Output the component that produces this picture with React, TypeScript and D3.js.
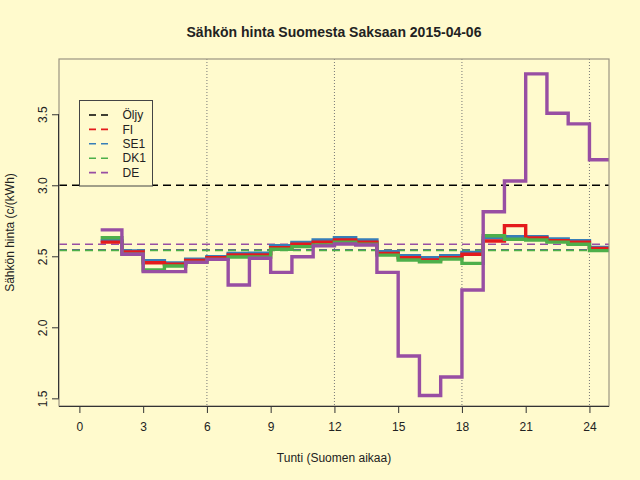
import React, { useEffect, useRef } from 'react';
import * as d3 from 'd3';

// hourly prices, c/kWh (value for hour h is drawn from h to h+1)
const hours = [1, 2, 3, 4, 5, 6, 7, 8, 9, 10, 11, 12, 13, 14, 15, 16, 17, 18, 19, 20, 21, 22, 23, 24];
const fi = [2.60, 2.53, 2.455, 2.445, 2.47, 2.49, 2.51, 2.51, 2.56, 2.585, 2.60, 2.615, 2.60, 2.52, 2.49, 2.475, 2.49, 2.514, 2.608, 2.716, 2.63, 2.61, 2.60, 2.555];
const se1 = [2.61, 2.537, 2.469, 2.453, 2.479, 2.497, 2.52, 2.521, 2.575, 2.598, 2.615, 2.631, 2.615, 2.532, 2.505, 2.49, 2.505, 2.527, 2.63, 2.638, 2.638, 2.622, 2.61, 2.563];
const dk1 = [2.631, 2.515, 2.403, 2.432, 2.457, 2.478, 2.495, 2.495, 2.55, 2.568, 2.58, 2.60, 2.585, 2.508, 2.474, 2.462, 2.48, 2.45, 2.645, 2.62, 2.615, 2.60, 2.585, 2.54];
const de = [2.686, 2.514, 2.392, 2.392, 2.457, 2.478, 2.298, 2.486, 2.387, 2.497, 2.573, 2.587, 2.58, 2.387, 1.798, 1.52, 1.65, 2.263, 2.814, 3.03, 3.784, 3.507, 3.432, 3.18];

// reference levels (dashed lines)
const oljy = 3.0;
const levelNames = ['FI', 'SE1', 'DK1', 'DE'];
const levelValues = [2.545, 2.544, 2.541, 2.585];

const legendNames = ['Öljy', 'FI', 'SE1', 'DK1', 'DE'];
const xTicks = [0, 3, 6, 9, 12, 15, 18, 21, 24];
const yTicks = [1.5, 2.0, 2.5, 3.0, 3.5];
const gridHours = [6, 12, 18, 24];

const colors: Record<string, string> = {
  'Öljy': '#000000',
  FI: '#E41A1C',
  SE1: '#377EB8',
  DK1: '#4DAF4A',
  DE: '#984EA3',
};

const W = 640;
const H = 480;
const BG = '#FFFACD';
const plot = { left: 59, right: 609, top: 59, bottom: 406 };
const font = '"Liberation Sans", Arial, Helvetica, sans-serif';

export default function App() {
  const ref = useRef<SVGSVGElement>(null);

  useEffect(() => {
    const svg = d3.select(ref.current);
    svg.selectAll('*').remove();

    const x = d3.scaleLinear().domain([-0.96, 24.92]).range([plot.left, plot.right]);
    const y = d3.scaleLinear().domain([1.446, 3.889]).range([plot.bottom, plot.top]);

    svg.append('rect').attr('width', W).attr('height', H).attr('fill', BG);

    svg.append('defs').append('clipPath').attr('id', 'clip')
      .append('rect')
      .attr('x', plot.left).attr('y', plot.top)
      .attr('width', plot.right - plot.left).attr('height', plot.bottom - plot.top);

    // dotted verticals
    svg.append('g').selectAll('line').data(gridHours).enter().append('line')
      .attr('x1', d => x(d)).attr('x2', d => x(d))
      .attr('y1', plot.top).attr('y2', plot.bottom)
      .attr('stroke', '#777').attr('stroke-width', 1)
      .attr('stroke-dasharray', '1,2');

    // reference levels
    const levels = [{ name: 'Öljy', v: oljy }].concat(levelNames.map((n, i) => ({ name: n, v: levelValues[i] })));
    svg.append('g').selectAll('line').data(levels).enter().append('line')
      .attr('x1', plot.left).attr('x2', plot.right)
      .attr('y1', d => y(d.v)).attr('y2', d => y(d.v))
      .attr('stroke', d => colors[d.name]).attr('stroke-width', 1.6)
      .attr('stroke-dasharray', '8,5');

    // step lines
    const series = [
      { name: 'SE1', vals: se1 },
      { name: 'FI', vals: fi },
      { name: 'DK1', vals: dk1 },
      { name: 'DE', vals: de },
    ];
    const line = d3.line<[number, number]>()
      .x(d => x(d[0])).y(d => y(d[1]))
      .curve(d3.curveStepAfter);
    const g = svg.append('g').attr('clip-path', 'url(#clip)');
    series.forEach(s => {
      const pts: [number, number][] = hours.map((h, i) => [h, s.vals[i]]);
      pts.push([hours[hours.length - 1] + 1, s.vals[s.vals.length - 1]]);
      g.append('path').attr('d', line(pts) || '')
        .attr('fill', 'none').attr('stroke', colors[s.name])
        .attr('stroke-width', 3.4).attr('stroke-linejoin', 'miter')
        .attr('stroke-linecap', 'butt');
    });

    // box
    svg.append('rect')
      .attr('x', plot.left).attr('y', plot.top)
      .attr('width', plot.right - plot.left).attr('height', plot.bottom - plot.top)
      .attr('fill', 'none').attr('stroke', '#9b9482').attr('stroke-width', 1.2);

    // axes
    const xa = svg.append('g').attr('transform', `translate(0,${plot.bottom})`)
      .call(d3.axisBottom(x).tickValues(xTicks).tickSize(7).tickSizeOuter(0).tickPadding(9)
        .tickFormat(d => String(d)));
    xa.select('.domain').attr('d', `M${plot.left},0.5H${plot.right}`).attr('stroke', '#333');
    const ya = svg.append('g').attr('transform', `translate(${plot.left},0)`)
      .call(d3.axisLeft(y).tickValues(yTicks).tickSize(7).tickSizeOuter(0)
        .tickFormat(d => d3.format('.1f')(d as number)));
    ya.select('.domain').attr('d', `M-0.5,${y(1.5)}V${y(3.5)}`).attr('stroke', '#333');
    [xa, ya].forEach(a => {
      a.selectAll('.tick line').attr('stroke', '#333');
      a.selectAll('text').attr('font-family', font).attr('font-size', 12).attr('fill', '#222');
    });
    ya.selectAll('.tick text')
      .attr('x', null).attr('dy', null)
      .attr('text-anchor', 'middle')
      .attr('transform', 'translate(-16,0) rotate(-90)')
      .attr('dy', '0.35em');

    // legend
    const lg = svg.append('g');
    const lx = 79.5;
    const ly = 100.5;
    lg.append('rect').attr('x', lx).attr('y', ly).attr('width', 73).attr('height', 85.5)
      .attr('fill', BG).attr('stroke', '#444').attr('stroke-width', 1);
    legendNames.forEach((n, i) => {
      const yy = ly + 14.5 + i * 14.4;
      lg.append('line').attr('x1', lx + 9.5).attr('x2', lx + 29.5)
        .attr('y1', yy).attr('y2', yy)
        .attr('stroke', colors[n]).attr('stroke-width', 1.6).attr('stroke-dasharray', '7,5');
      lg.append('text').attr('x', lx + 43).attr('y', yy).attr('dy', '0.35em')
        .attr('font-family', font).attr('font-size', 12).attr('fill', '#222').text(n);
    });

    // titles
    svg.append('text').attr('x', (plot.left + plot.right) / 2).attr('y', 37)
      .attr('text-anchor', 'middle').attr('font-family', font).attr('font-size', 14)
      .attr('font-weight', 'bold').attr('fill', '#222')
      .text('Sähkön hinta Suomesta Saksaan 2015-04-06');
    svg.append('text').attr('x', (plot.left + plot.right) / 2).attr('y', 462)
      .attr('text-anchor', 'middle').attr('font-family', font).attr('font-size', 12)
      .attr('fill', '#222').text('Tunti (Suomen aikaa)');
    svg.append('text')
      .attr('transform', `translate(14,${(plot.top + plot.bottom) / 2}) rotate(-90)`)
      .attr('text-anchor', 'middle').attr('font-family', font).attr('font-size', 12)
      .attr('fill', '#222').text('Sähkön hinta (c/(kWh)');
  }, []);

  return (
    <svg ref={ref} width={W} height={H}
      style={{ position: 'absolute', left: 0, top: 0, display: 'block' }} />
  );
}
